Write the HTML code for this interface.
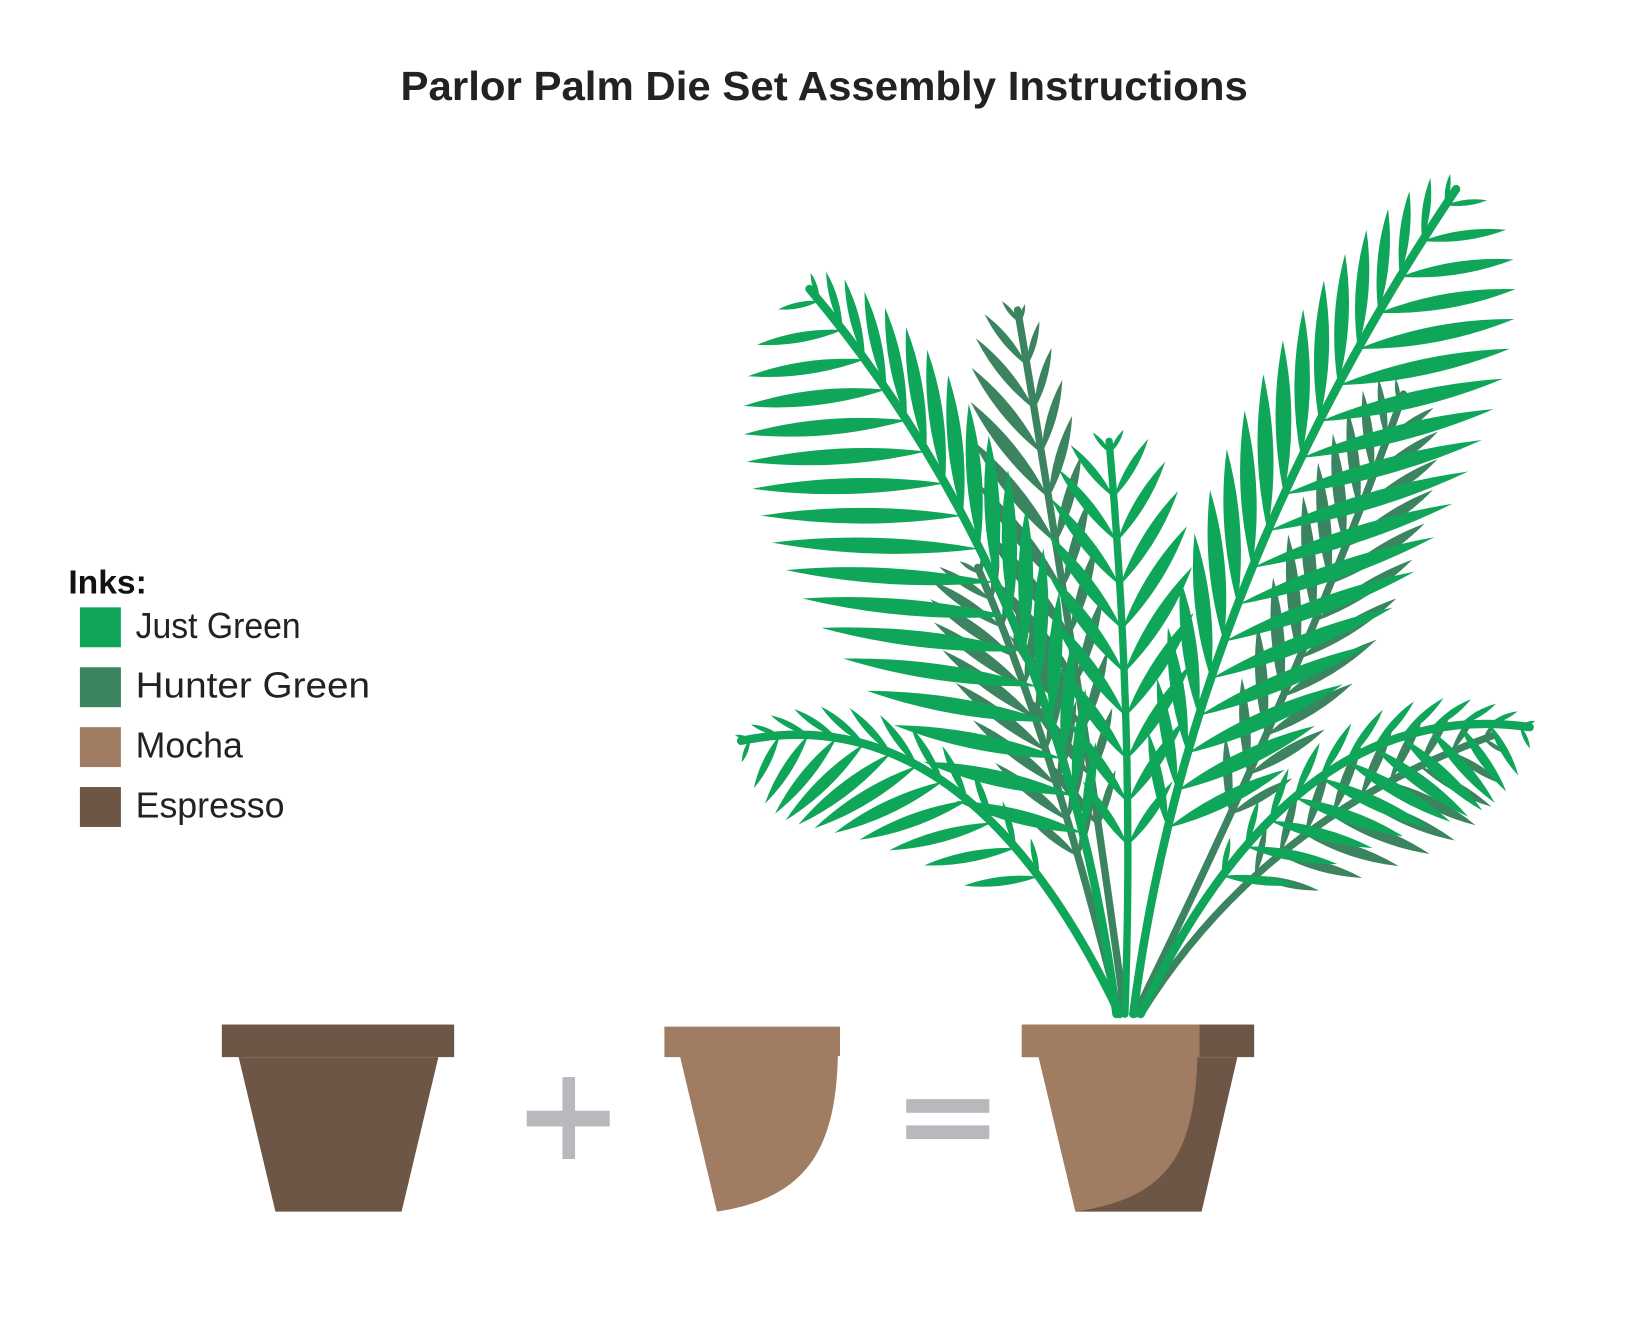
<!DOCTYPE html>
<html><head><meta charset="utf-8"><style>
html,body{margin:0;padding:0;background:#fff;}
svg{display:block;}
</style></head><body>
<svg id="s" width="1640" height="1324" viewBox="0 0 1560 1260" preserveAspectRatio="none" xmlns="http://www.w3.org/2000/svg">
<rect width="1560" height="1260" fill="#fff"/>
<text x="784" y="95" text-anchor="middle" font-family="Liberation Sans, sans-serif" font-weight="bold" font-size="39" textLength="806" lengthAdjust="spacingAndGlyphs" fill="#222">Parlor Palm Die Set Assembly Instructions</text>
<text x="65" y="565" font-family="Liberation Sans, sans-serif" font-weight="bold" font-size="32" fill="#111">Inks:</text>
<rect x="76" y="578" width="39" height="38" fill="#10a65a"/>
<rect x="76" y="635" width="39" height="38" fill="#3c8460"/>
<rect x="76" y="692" width="39" height="38" fill="#a07d62"/>
<rect x="76" y="749" width="39" height="38" fill="#6e5646"/>
<g font-family="Liberation Sans, sans-serif" font-size="34" fill="#222">
<text x="129" y="607" textLength="157" lengthAdjust="spacingAndGlyphs">Just Green</text>
<text x="129" y="664" textLength="223" lengthAdjust="spacingAndGlyphs">Hunter Green</text>
<text x="129" y="721">Mocha</text>
<text x="129" y="778">Espresso</text>
</g>
<g id="hunter"></g>
<g id="green"></g>
<rect x="211" y="975" width="221" height="31" fill="#6e5646"/>
<polygon points="227,1006 417,1006 382,1153 262,1153" fill="#6e5646"/>
<rect x="535" y="1025" width="12" height="78" fill="#b8b8bd"/>
<rect x="501" y="1057" width="79" height="15" fill="#b8b8bd"/>
<path d="M632,977 L799,977 L799,1005 L797,1005 C795,1090 770,1140 682,1153 L647,1006 L632,1006 Z" fill="#a07d62"/>
<rect x="862" y="1046" width="79" height="13" fill="#b8b8bd"/>
<rect x="862" y="1071" width="79" height="13" fill="#b8b8bd"/>
<rect x="972" y="975" width="221" height="31" fill="#6e5646"/>
<polygon points="988,1006 1177,1006 1143,1153 1023,1153" fill="#6e5646"/>
<path d="M972,975 L1141,975 L1141,1006 L1139,1006 C1136,1100 1110,1140 1023,1153 L988,1006 L972,1006 Z" fill="#a07d62"/>
</svg>
<script>
var NS="http://www.w3.org/2000/svg";
function q(p0,c,p1,t){var u=1-t;return [u*u*p0[0]+2*u*t*c[0]+t*t*p1[0],u*u*p0[1]+2*u*t*c[1]+t*t*p1[1]];}
function qd(p0,c,p1,t){return [2*(1-t)*(c[0]-p0[0])+2*t*(p1[0]-c[0]),2*(1-t)*(c[1]-p0[1])+2*t*(p1[1]-c[1])];}
function frond(g,col,p0,c,p1,n,t0,sides,sw){
  var d="M"+p0+" Q"+c+" "+p1;
  var r=document.createElementNS(NS,"path");
  r.setAttribute("d",d);r.setAttribute("stroke",col);r.setAttribute("stroke-width",sw||8);r.setAttribute("fill","none");r.setAttribute("stroke-linecap","round");
  g.appendChild(r);
  var out="";
  for(var i=0;i<n;i++){
    var t=t0+(0.98-t0)*i/(n-1);
    var p=q(p0,c,p1,t),dv=qd(p0,c,p1,t);
    var a=Math.atan2(dv[1],dv[0]);
    sides.forEach(function(s){
      var prof=Math.pow(Math.sin(Math.PI*Math.min(1,(t-t0)/(1-t0)*0.85+0.15)),0.6);
      var L=s[1]*prof; if(L<15)L=15;
      var b=a+s[0]*Math.PI/180;
      var e=[p[0]+L*Math.cos(b),p[1]+L*Math.sin(b)];
      var m=[p[0]+L*0.5*Math.cos(b),p[1]+L*0.5*Math.sin(b)];
      var w=Math.min(13,L*0.09)+2;
      var nx=-Math.sin(b)*w,ny=Math.cos(b)*w;
      out+="M"+p[0].toFixed(1)+","+p[1].toFixed(1)+" Q"+(m[0]+nx).toFixed(1)+","+(m[1]+ny).toFixed(1)+" "+e[0].toFixed(1)+","+e[1].toFixed(1)+" Q"+(m[0]-nx).toFixed(1)+","+(m[1]-ny).toFixed(1)+" "+p[0].toFixed(1)+","+p[1].toFixed(1)+"Z ";
    });
  }
  var l=document.createElementNS(NS,"path");l.setAttribute("d",out);l.setAttribute("fill",col);g.appendChild(l);
}
var H=document.getElementById("hunter"),G=document.getElementById("green");
var hc="#3c8460",gc="#10a65a";
frond(H,hc,[1070,965],[1020,600],[968,295],12,0.25,[[-30,130],[25,90]],7);
frond(H,hc,[1080,965],[1240,640],[1335,375],12,0.3,[[-28,120],[35,110]],7);
frond(H,hc,[1085,965],[1200,780],[1420,700],9,0.4,[[-35,80],[55,100]],7);
frond(H,hc,[1065,965],[1000,700],[930,540],10,0.3,[[-35,110],[30,90]],7);
frond(G,gc,[1062,965],[1010,560],[770,275],17,0.22,[[-62,200],[22,140]],8);
frond(G,gc,[1078,965],[1130,560],[1385,180],18,0.22,[[-25,150],[50,200]],8);
frond(G,gc,[1065,965],[920,660],[705,705],12,0.25,[[-60,115],[25,60]],8);
frond(G,gc,[1085,965],[1230,660],[1455,692],12,0.25,[[60,115],[-25,60]],8);
frond(G,gc,[1070,965],[1080,700],[1055,420],10,0.3,[[-35,120],[35,120]],7);
</script>
</body></html>
